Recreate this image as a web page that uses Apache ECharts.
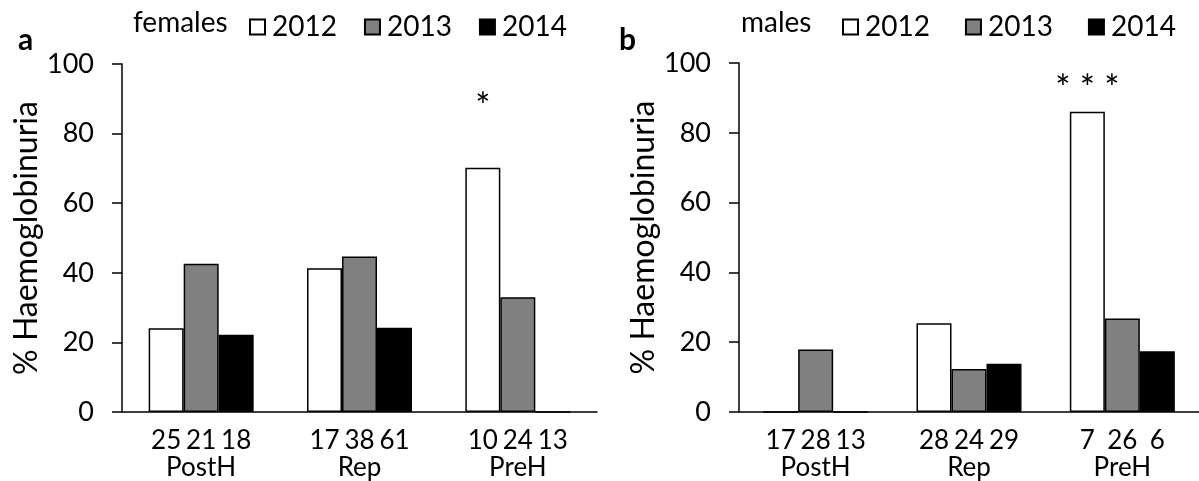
<!DOCTYPE html>
<html>
<head>
<meta charset="utf-8">
<script src="https://cdn.jsdelivr.net/npm/echarts@6/dist/echarts.min.js"></script>
<style>
html,body{margin:0;padding:0;background:#fff;}
#c{width:1199px;height:481px;}
</style>
</head>
<body>
<div id="c"></div>
<script>
// ---- data ----
const categories = ['PostH', 'Rep', 'PreH'];
const years = ['2012', '2013', '2014'];
const yTicks = [0, 20, 40, 60, 80, 100];

// females (%)
const females2012 = [24.1, 41.3, 70.2];
const females2013 = [42.6, 44.7, 33.0];
const females2014 = [22.2, 24.2, 0];
// sample sizes under each bar (females)
const femalesN2012 = [25, 17, 10];
const femalesN2013 = [21, 38, 24];
const femalesN2014 = [18, 61, 13];
const femalesSig = ['', '', '*'];

// males (%)
const males2012 = [0, 25.4, 86.0];
const males2013 = [17.9, 12.3, 26.8];
const males2014 = [0, 13.8, 17.4];
const malesN2012 = [17, 28, 7];
const malesN2013 = [28, 24, 26];
const malesN2014 = [13, 29, 6];
const malesSig = ['', '', '* * *'];

// ---- chart ----
const FONT = 'Lato';
const colors = ['#ffffff', '#808080', '#000000'];
const chart = echarts.init(document.getElementById('c'), null, {renderer: 'canvas'});

function xLabels(n1, n2, n3) {
  return categories.map((c, i) => `{n|${n1[i]}}{n|${n2[i]}}{n|${n3[i]}}\n{c|${c}}`);
}
const femaleLabels = xLabels(femalesN2012, femalesN2013, femalesN2014);
const maleLabels = xLabels(malesN2012, malesN2013, malesN2014);

function xAxis(idx, labels) {
  return {
    type: 'category', gridIndex: idx, data: categories,
    axisLine: {lineStyle: {color: '#000', width: 1.5}},
    axisTick: {show: false},
    axisLabel: {
      interval: 0, hideOverlap: false,
      margin: 15, color: '#000', fontFamily: FONT, fontSize: 26, lineHeight: 27,
      formatter: (v, i) => labels[i],
      rich: {
        n: {width: 35, align: 'center', fontSize: 26, fontFamily: FONT, color: '#000', lineHeight: 27},
        c: {fontSize: 26, fontFamily: FONT, color: '#000', lineHeight: 27}
      }
    }
  };
}
function yAxis(idx) {
  return {
    type: 'value', gridIndex: idx, min: 0, max: 100, interval: 20,
    name: '% Haemoglobinuria', nameLocation: 'middle', nameGap: 66, nameRotate: 90,
    nameTextStyle: {fontFamily: FONT, fontSize: 32, color: '#000'},
    axisLine: {show: true, lineStyle: {color: '#000', width: 1.5}},
    axisTick: {show: true, length: 10, lineStyle: {color: '#000', width: 1.5}},
    splitLine: {show: false},
    axisLabel: {margin: 28, color: '#000', fontFamily: FONT, fontSize: 27,
      formatter: v => (yTicks.includes(v) ? String(v) : '')}
  };
}
function barSeries(name, idx, values, color, sig, sigDist, sigSize) {
  return {
    name: name, type: 'bar', xAxisIndex: idx, yAxisIndex: idx,
    barWidth: 35, barGap: '0%',
    itemStyle: {color: color, borderColor: '#000', borderWidth: 1.5},
    data: values.map((v, i) => (sig && sig[i]) ? {
      value: v,
      label: {show: true, position: 'top', distance: sigDist, formatter: sig[i],
        fontFamily: FONT, fontSize: sigSize, color: '#000'}
    } : v),
    emphasis: {disabled: true},
    animation: false
  };
}

const legendBase = {
  itemWidth: 15, itemHeight: 15,
  textStyle: {fontFamily: FONT, fontSize: 28, color: '#000', padding: [0, 0, 0, 2]},
  selectedMode: false
};

chart.setOption({
  backgroundColor: '#fff',
  animation: false,
  title: [
    {text: 'a', left: 13, top: 20, textStyle: {fontFamily: FONT, fontSize: 30, fontWeight: 'bold', color: '#000'}},
    {text: 'b', left: 614, top: 20, textStyle: {fontFamily: FONT, fontSize: 30, fontWeight: 'bold', color: '#000'}},
    {text: 'females', left: 128, top: 4, textStyle: {fontFamily: FONT, fontSize: 28, fontWeight: 'normal', color: '#000'}},
    {text: 'males', left: 736, top: 4, textStyle: {fontFamily: FONT, fontSize: 28, fontWeight: 'normal', color: '#000'}}
  ],
  legend: [
    Object.assign({}, legendBase, {left: 244, top: 8, itemGap: 27, data: years.map(y => ({name: y, icon: 'rect'}))}),
    Object.assign({}, legendBase, {left: 837, top: 8, itemGap: 35, data: years.map(y => ({name: y + ' ', icon: 'rect'})),
      formatter: n => n.trim()})
  ],
  grid: [
    {left: 122, right: 602, top: 64, bottom: 69},
    {left: 739, right: -8, top: 63, bottom: 69}
  ],
  xAxis: [xAxis(0, femaleLabels), xAxis(1, maleLabels)],
  yAxis: [yAxis(0), yAxis(1)],
  series: [
    barSeries('2012', 0, females2012, colors[0], femalesSig, 42, 36),
    barSeries('2013', 0, females2013, colors[1]),
    barSeries('2014', 0, females2014, colors[2]),
    barSeries('2012 ', 1, males2012, colors[0], malesSig, 4, 36),
    barSeries('2013 ', 1, males2013, colors[1]),
    barSeries('2014 ', 1, males2014, colors[2])
  ]
});
</script>
</body>
</html>
